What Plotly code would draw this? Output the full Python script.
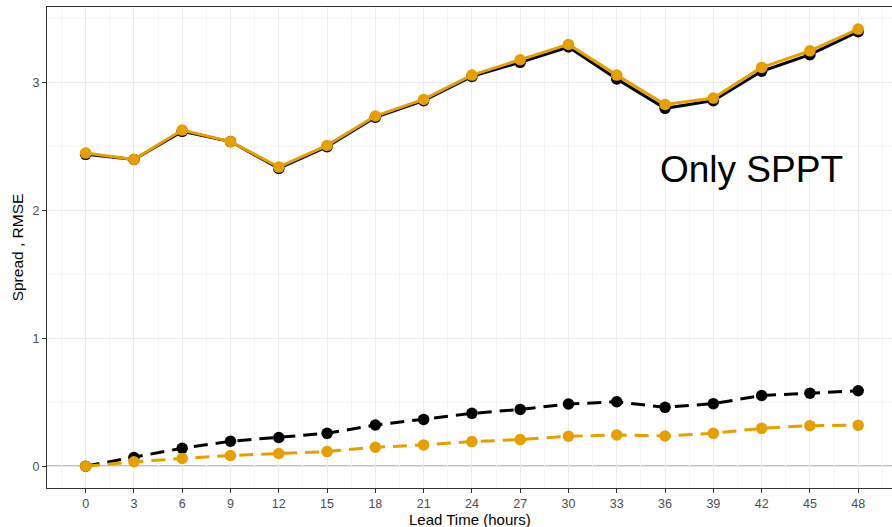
import plotly.graph_objects as go

lead_time = [0, 3, 6, 9, 12, 15, 18, 21, 24, 27, 30, 33, 36, 39, 42, 45, 48]

rmse_black = [2.44, 2.40, 2.62, 2.54, 2.33, 2.50, 2.73, 2.86, 3.05, 3.16, 3.28, 3.03, 2.80, 2.86, 3.09, 3.22, 3.40]
rmse_orange = [2.45, 2.40, 2.63, 2.54, 2.34, 2.51, 2.74, 2.87, 3.06, 3.18, 3.30, 3.06, 2.83, 2.88, 3.12, 3.25, 3.42]
spread_black = [0.00, 0.068, 0.14, 0.195, 0.224, 0.257, 0.322, 0.366, 0.413, 0.444, 0.486, 0.504, 0.46, 0.489, 0.553, 0.571, 0.59]
spread_orange = [0.00, 0.034, 0.06, 0.083, 0.099, 0.114, 0.148, 0.166, 0.192, 0.208, 0.234, 0.244, 0.236, 0.257, 0.296, 0.317, 0.32]

x_ticks = lead_time
y_ticks = [0, 1, 2, 3]
annotation_text = "Only SPPT"
x_title = "Lead Time (hours)"
y_title = "Spread , RMSE"

BLACK = "#000000"
ORANGE = "#E69F00"
FONT = "Liberation Sans, Arial, sans-serif"

fig = go.Figure()

def add(y, color, dash):
    fig.add_trace(go.Scatter(
        x=lead_time, y=y, mode="lines+markers",
        line=dict(color=color, width=3, dash=dash),
        marker=dict(color=color, size=11.5),
        showlegend=False, hoverinfo="skip",
    ))

add(rmse_black, BLACK, "solid")
add(rmse_orange, ORANGE, "solid")
add(spread_black, BLACK, "14px,8px")
add(spread_orange, ORANGE, "14px,8px")

fig.add_hline(y=0, line=dict(color="#7f7f7f", width=1.2), layer="below")

fig.add_annotation(x=41.4, y=2.32, text=annotation_text, showarrow=False,
                   font=dict(family=FONT, size=37, color="#000000"),
                   xanchor="center", yanchor="middle")

B = 39
PH = 527 - 7 - B
fig.add_annotation(xref="paper", yref="paper", x=0.5, y=-B / PH,
                   text=x_title, showarrow=False, borderpad=0,
                   font=dict(family=FONT, size=15, color="#000000"),
                   xanchor="center", yanchor="bottom", yshift=-2)

fig.update_layout(
    width=892, height=527,
    margin=dict(l=47, r=0, t=7, b=B),
    paper_bgcolor="white", plot_bgcolor="white",
    font=dict(family=FONT, color="#4d4d4d", size=12.5),
)
fig.update_xaxes(
    range=[-2.4, 50.1], tickvals=x_ticks, ticktext=[str(v) for v in x_ticks],
    showgrid=True, gridcolor="#EBEBEB", gridwidth=1.2,
    minor=dict(dtick=1.5, tick0=-1.5, showgrid=True, gridcolor="#F5F5F5", gridwidth=0.6),
    showline=True, linecolor="#333333", linewidth=1, mirror=True,
    ticks="outside", ticklen=4, tickcolor="#333333",
    tickfont=dict(size=12.5, color="#4d4d4d"),
    zeroline=False,
)
fig.update_yaxes(
    range=[-0.171, 3.593], tickvals=y_ticks, ticktext=[str(v) for v in y_ticks],
    showgrid=True, gridcolor="#EBEBEB", gridwidth=1.2,
    minor=dict(dtick=0.5, tick0=0, showgrid=True, gridcolor="#F5F5F5", gridwidth=0.6),
    showline=True, linecolor="#333333", linewidth=1, mirror=True,
    ticks="outside", ticklen=4, tickcolor="#333333",
    tickfont=dict(size=12.5, color="#4d4d4d"),
    zeroline=False,
    title=dict(text=y_title, font=dict(size=15.5, color="#000000"), standoff=5),
)

fig.write_html("out.html")
